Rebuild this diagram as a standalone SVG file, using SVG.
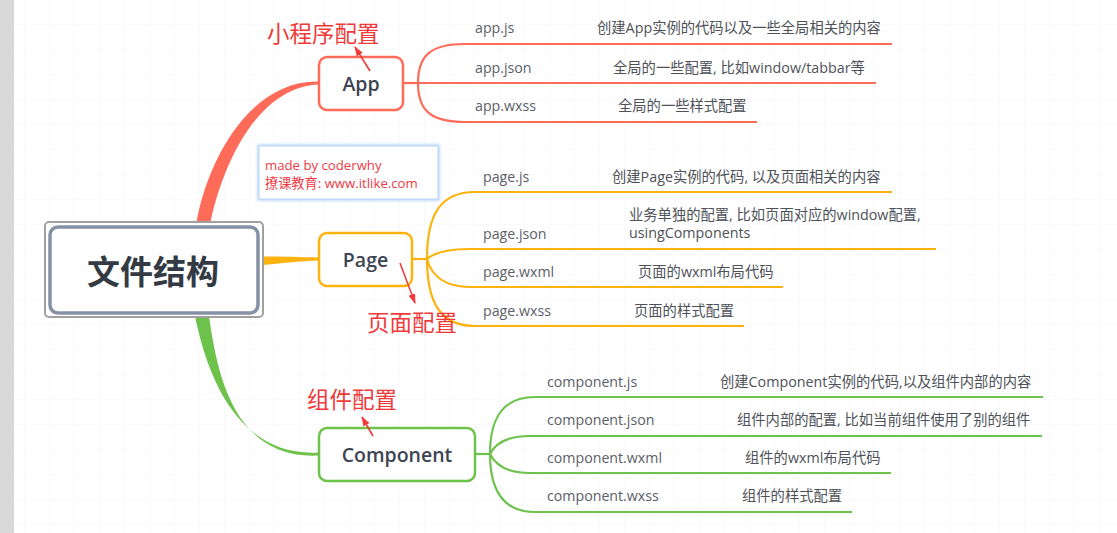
<svg xmlns="http://www.w3.org/2000/svg" width="1117" height="533" viewBox="0 0 1117 533">
  <defs>
    <pattern id="grid" width="25" height="25" patternUnits="userSpaceOnUse">
      <path d="M25 0V25M0 25H25" fill="none" stroke="#f5f5f5" stroke-width="1"/>
    </pattern>
    <filter id="glow" x="-10%" y="-20%" width="120%" height="140%">
      <feGaussianBlur stdDeviation="1.5"/>
    </filter>
    <marker id="ah" viewBox="0 0 10 10" refX="9" refY="5" markerWidth="10" markerHeight="10" markerUnits="userSpaceOnUse" orient="auto">
      <path d="M0 1.5L10 5L0 8.5Z" fill="#f03a3a"/>
    </marker>
  </defs>
  <style>
    .file { font-family: "Open Sans", "Noto Sans CJK SC", sans-serif; font-size: 14.2px; fill: #5b6067; }
    .desc { font-family: "Open Sans", "Noto Sans CJK SC", sans-serif; font-size: 14.3px; fill: #4e5258; }
    .ntext { font-family: "Open Sans", "Noto Sans CJK SC", sans-serif; font-size: 19.5px; font-weight: 600; fill: #3d4452; text-anchor: middle; dominant-baseline: central; }
    .note { font-family: "Noto Sans CJK SC", sans-serif; font-size: 22.5px; fill: #f03a3a; }
    .red { stroke: #fe6b59; }
    .org { stroke: #fdb20d; }
    .grn { stroke: #6cc24a; }
    .br { fill: none; stroke-width: 2.2; }
    .box { fill: #ffffff; stroke-width: 2.5; }
    .arrow { stroke: #f03a3a; stroke-width: 1.6; fill: none; marker-end: url(#ah); }
  </style>

  <rect width="1117" height="533" fill="#ffffff"/>
  <rect width="1117" height="533" fill="url(#grid)"/>
  <rect x="0" y="0" width="14" height="533" fill="#d9d9d9"/>

  <g id="connectors">
    <!-- main trunks -->
    <path d="M196 225 C206 164 248 80 319 81.5 L319 84.5 C254 87 220 173 210 225 Z" fill="#fe6b59"/>
    <path d="M263 256.5 C285 256.5 300 257 319 257.5 L319 260.5 C300 261 285 263 263 265 Z" fill="#fdb20d"/>
    <path d="M195 316 C207 375 237 457 319 452.5 L319 455.5 C233 460 217 372 209 316 Z" fill="#6cc24a"/>

    <!-- App branches -->
    <path class="br red" d="M403 83 L418 83"/>
    <path class="br red" d="M418 83 C418 56 430 44 465 44 L892 44"/>
    <path class="br red" d="M418 83 L876 83"/>
    <path class="br red" d="M418 83 C418 110 430 122 465 122 L757 122"/>

    <!-- Page branches -->
    <path class="br org" d="M412 259 L427 259"/>
    <path class="br org" d="M427 259 C427 215 440 192 475 192 L892 192"/>
    <path class="br org" d="M427 259 C435 252 448 249 470 249 L936 249"/>
    <path class="br org" d="M427 259 C432 278 448 287 470 287 L783 287"/>
    <path class="br org" d="M427 259 C427 305 442 326 475 326 L744 326"/>

    <!-- Component branches -->
    <path class="br grn" d="M475 454 L490 454"/>
    <path class="br grn" d="M490 454 C490 415 505 397 535 397 L1043 397"/>
    <path class="br grn" d="M490 454 C496 442 508 436 530 436 L1042 436"/>
    <path class="br grn" d="M490 454 C496 466 508 473 530 473 L891 473"/>
    <path class="br grn" d="M490 454 C490 493 505 512 535 512 L852 512"/>
  </g>

  <g id="root">
    <rect x="45" y="222" width="218" height="95" rx="4" fill="#ffffff" stroke="#a0a0a0" stroke-width="2"/>
    <rect x="50" y="227" width="208" height="86" rx="8" fill="#ffffff" stroke="#8591a5" stroke-width="3.5"/>
    <text x="153" y="270" font-family="'Noto Sans CJK SC', sans-serif" font-size="33" font-weight="700" fill="#333a44" text-anchor="middle" dominant-baseline="central">文件结构</text>
  </g>

  <g id="app">
    <rect class="box red" x="319" y="57" width="84" height="53" rx="8"/>
    <text class="ntext" x="361" y="83">App</text>
  </g>
  <g id="app-items">
    <text class="file" x="475" y="33">app.js</text>
    <text class="desc" x="597" y="33">创建App实例的代码以及一些全局相关的内容</text>
    <text class="file" x="475" y="73">app.json</text>
    <text class="desc" x="613" y="73">全局的一些配置, 比如window/tabbar等</text>
    <text class="file" x="475" y="111">app.wxss</text>
    <text class="desc" x="618" y="111">全局的一些样式配置</text>
  </g>

  <g id="page">
    <rect class="box org" x="319" y="233" width="93" height="53" rx="8"/>
    <text class="ntext" x="365.5" y="259">Page</text>
  </g>
  <g id="page-items">
    <text class="file" x="483" y="182">page.js</text>
    <text class="desc" x="612" y="182">创建Page实例的代码, 以及页面相关的内容</text>
    <text class="file" x="483" y="239">page.json</text>
    <text class="desc" x="629" y="220">业务单独的配置, 比如页面对应的window配置,</text>
    <text class="desc" x="629" y="238">usingComponents</text>
    <text class="file" x="483" y="277">page.wxml</text>
    <text class="desc" x="638" y="277">页面的wxml布局代码</text>
    <text class="file" x="483" y="316">page.wxss</text>
    <text class="desc" x="634" y="316">页面的样式配置</text>
  </g>

  <g id="component">
    <rect class="box grn" x="319" y="428" width="156" height="53" rx="8"/>
    <text class="ntext" x="397" y="454">Component</text>
  </g>
  <g id="component-items">
    <text class="file" x="547" y="387">component.js</text>
    <text class="desc" x="720" y="387">创建Component实例的代码,以及组件内部的内容</text>
    <text class="file" x="547" y="425">component.json</text>
    <text class="desc" x="737" y="425">组件内部的配置, 比如当前组件使用了别的组件</text>
    <text class="file" x="547" y="463">component.wxml</text>
    <text class="desc" x="745" y="463">组件的wxml布局代码</text>
    <text class="file" x="547" y="501">component.wxss</text>
    <text class="desc" x="742" y="501">组件的样式配置</text>
  </g>

  <g id="watermark">
    <rect x="259" y="146" width="179" height="53" fill="none" stroke="#a9cdf7" stroke-width="3" filter="url(#glow)"/>
    <rect x="259" y="146" width="179" height="53" fill="#ffffff" stroke="#b9d6f8" stroke-width="1"/>
    <text x="265" y="170" font-family="'Open Sans', 'Noto Sans CJK SC', sans-serif" font-size="13.2" fill="#ee3a45">made by coderwhy</text>
    <text x="265" y="188" font-family="'Open Sans', 'Noto Sans CJK SC', sans-serif" font-size="13.2" fill="#ee3a45">撩课教育: www.itlike.com</text>
  </g>

  <g id="annotations">
    <text class="note" x="267" y="42">小程序配置</text>
    <path class="arrow" d="M370 71 L355 47"/>
    <text class="note" x="367" y="331">页面配置</text>
    <path class="arrow" d="M400 263 L415 303"/>
    <text class="note" x="307" y="408">组件配置</text>
    <path class="arrow" d="M373 436 L362 417"/>
  </g>
</svg>
